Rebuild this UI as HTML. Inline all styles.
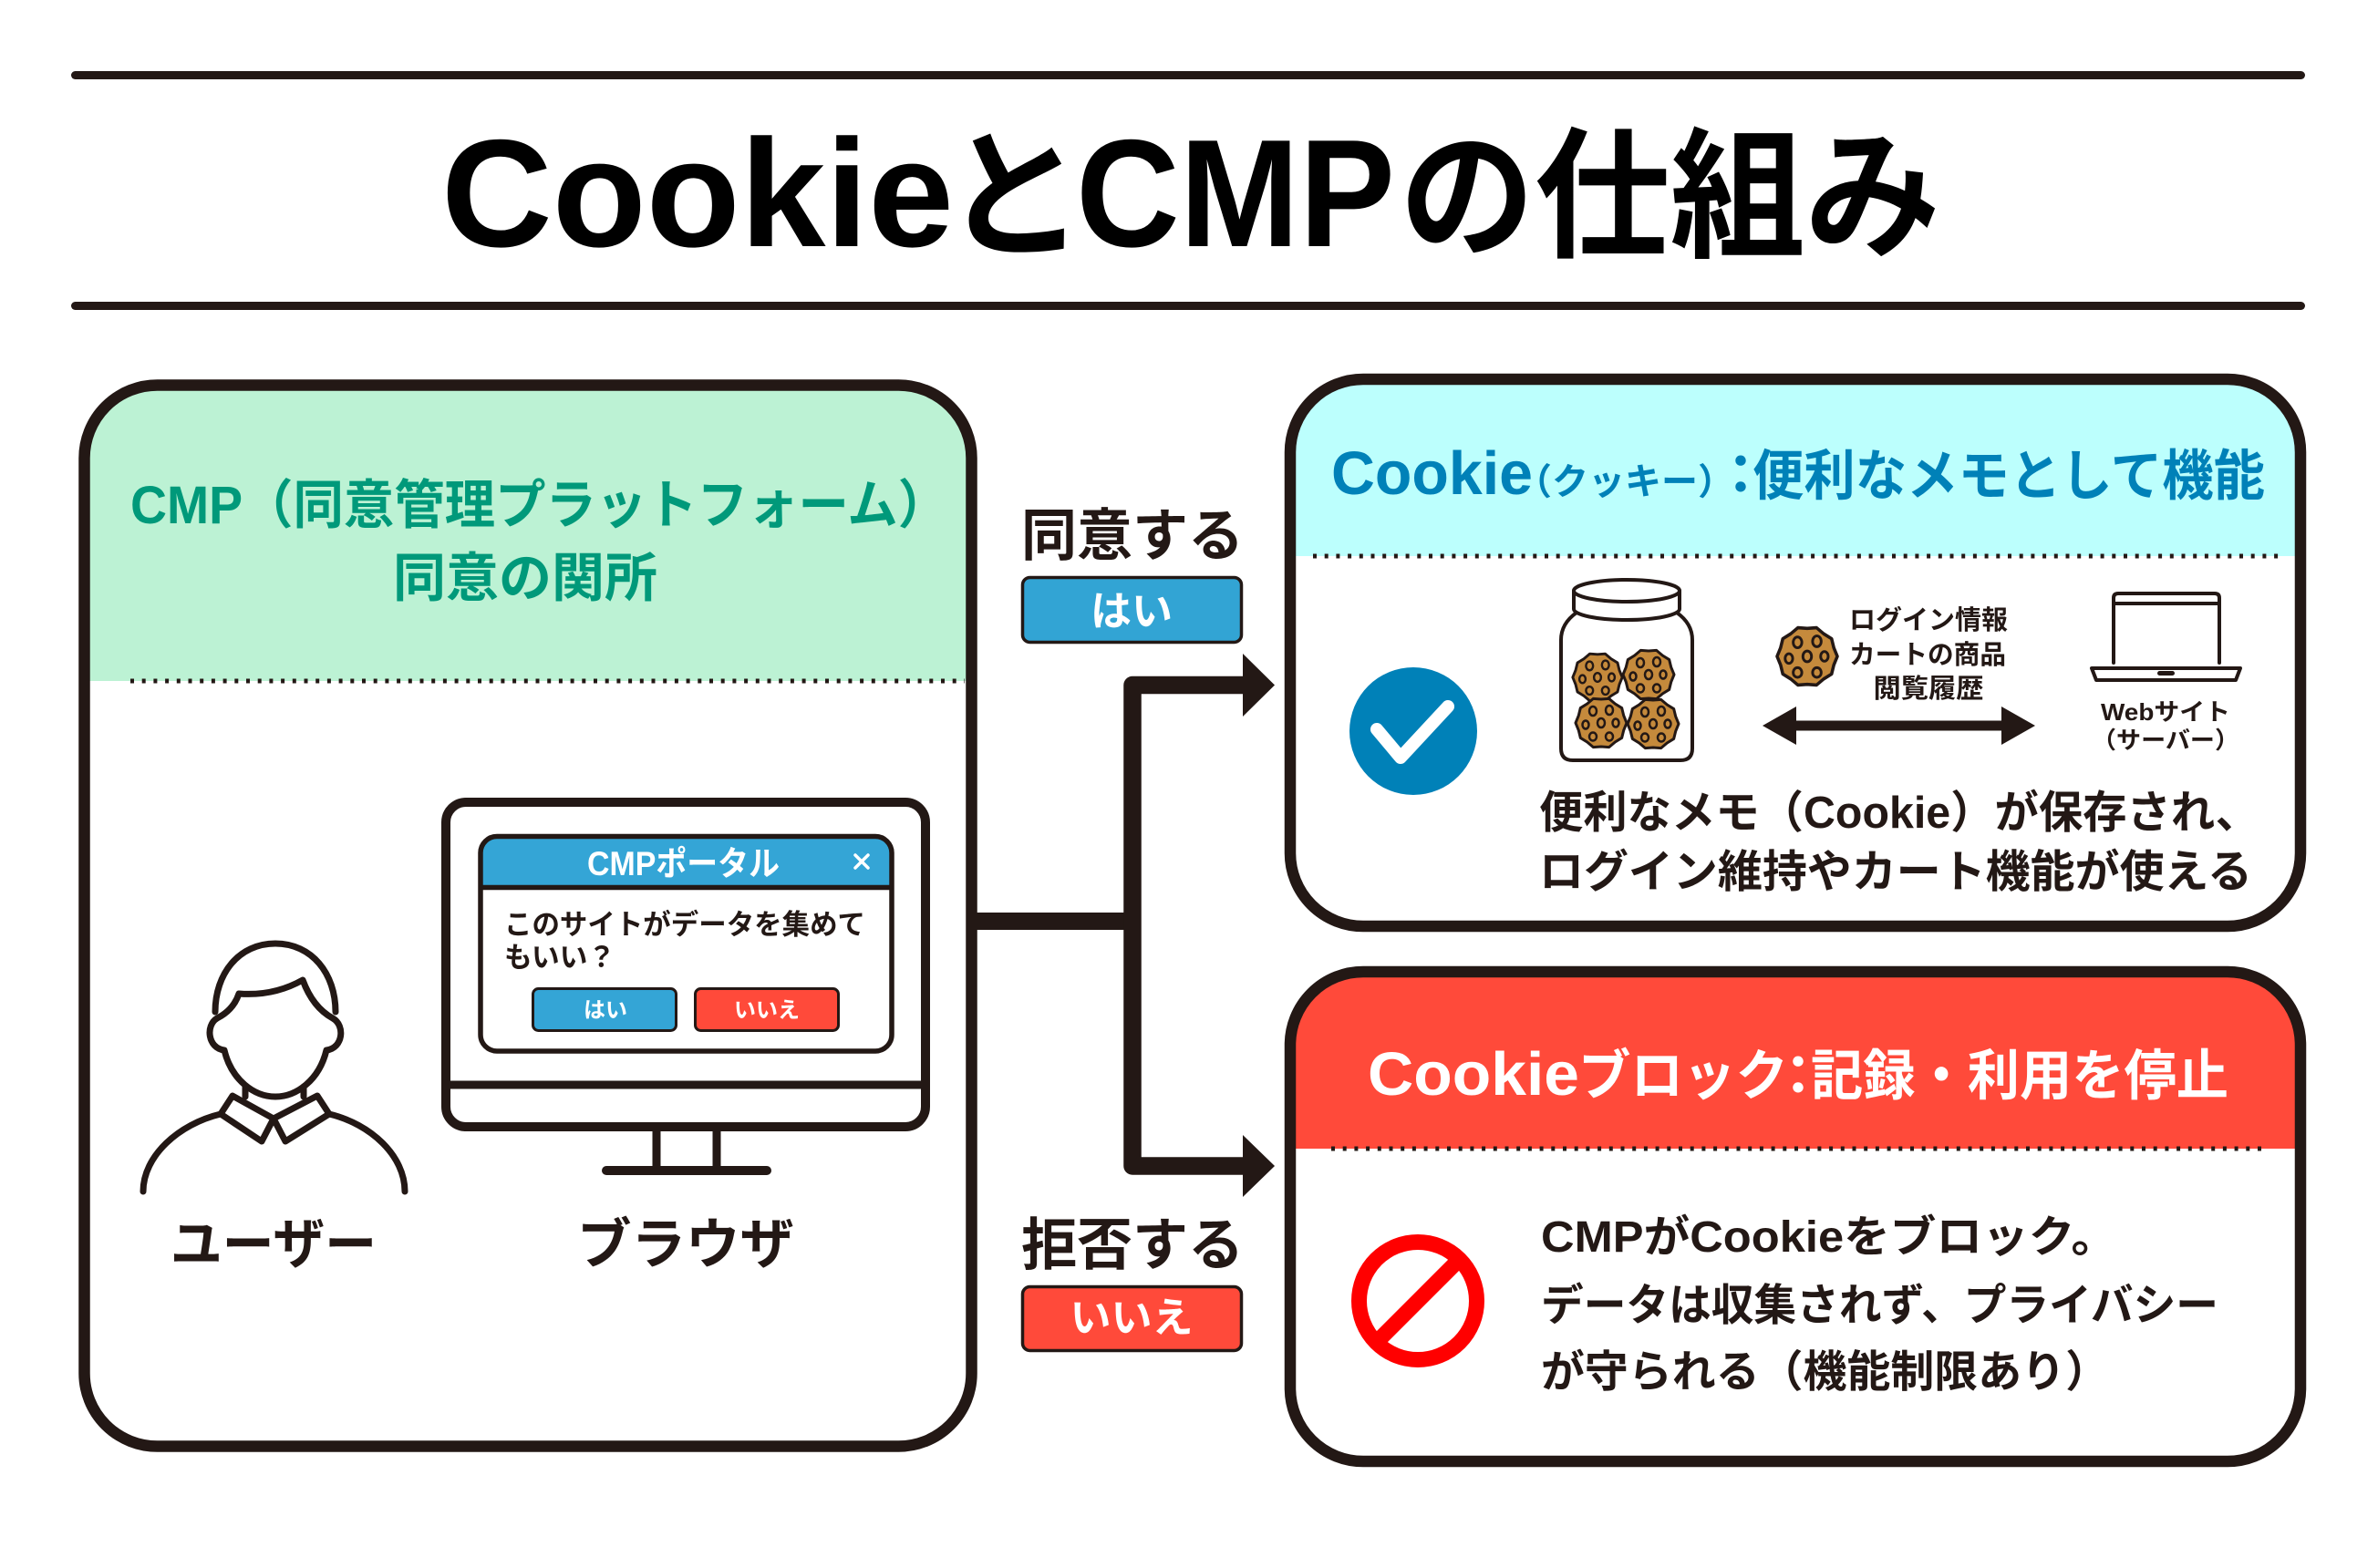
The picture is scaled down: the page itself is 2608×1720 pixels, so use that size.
<!DOCTYPE html>
<html><head><meta charset="utf-8"><style>
html,body{margin:0;padding:0;background:#fff;}
svg{display:block;}
</style></head><body>
<svg width="2608" height="1720" viewBox="0 0 2608 1720" xmlns="http://www.w3.org/2000/svg">
<defs>
<clipPath id="cl"><rect x="92.5" y="422.5" width="973" height="1164" rx="80"/></clipPath>
<clipPath id="ct"><rect x="1415" y="416" width="1108" height="600" rx="80"/></clipPath>
<clipPath id="cb"><rect x="1415" y="1066" width="1108" height="537" rx="80"/></clipPath>
<g id="ck">
<polygon points="28,0 24.73,8.03 22.65,16.46 15.29,21.03 8.65,26.63 0,26 -8.65,26.63 -15.29,21.03 -22.65,16.46 -24.73,8.03 -28,0 -24.73,-8.03 -22.65,-16.46 -15.29,-21.03 -8.65,-26.63 0,-26 8.65,-26.63 15.29,-21.03 22.65,-16.46 24.73,-8.03" fill="#c58a3c" stroke="#231815" stroke-width="3" stroke-linejoin="round"/>
<g fill="none" stroke="#231815" stroke-width="2.5">
<ellipse cx="-9" cy="-13" rx="4" ry="5"/>
<ellipse cx="9" cy="-14" rx="4" ry="5"/>
<ellipse cx="-17" cy="2" rx="3.5" ry="4.5"/>
<ellipse cx="0" cy="0" rx="4" ry="5"/>
<ellipse cx="16" cy="0" rx="3.5" ry="4.5"/>
<ellipse cx="-9" cy="15" rx="4" ry="4.5"/>
<ellipse cx="9" cy="15" rx="4" ry="4.5"/>
</g>
</g>
</defs>

<g font-family="'Liberation Sans','Noto Sans CJK JP',sans-serif" font-weight="bold">

<!-- title rules -->
<rect x="78" y="78" width="2450" height="9" rx="4.5" fill="#231815"/>
<rect x="78" y="331" width="2450" height="9" rx="4.5" fill="#231815"/>

<!-- title -->
<g fill="#000">
<text x="484" y="270" font-size="168" textLength="562" lengthAdjust="spacingAndGlyphs">Cookie</text>
<text x="1035" y="270" font-size="155">と</text>
<text x="1180" y="270" font-size="168" textLength="350" lengthAdjust="spacingAndGlyphs">CMP</text>
<text x="1535" y="270" font-size="155" textLength="593" lengthAdjust="spacingAndGlyphs">の仕組み</text>
</g>

<!-- LEFT PANEL -->
<rect x="92.5" y="422.5" width="973" height="1164" rx="80" fill="#fff"/>
<rect x="80" y="410" width="1000" height="337" fill="#bcf2d4" clip-path="url(#cl)"/>
<line x1="143" y1="747" x2="1058" y2="747" stroke="#231815" stroke-width="5" stroke-dasharray="4 8.7"/>
<rect x="92.5" y="422.5" width="973" height="1164" rx="80" fill="none" stroke="#231815" stroke-width="12.5"/>

<text x="143" y="574" font-size="58" fill="#00997a" textLength="897" lengthAdjust="spacingAndGlyphs">CMP（同意管理プラットフォーム）</text>
<text x="576" y="654" font-size="58" fill="#00997a" text-anchor="middle">同意の関所</text>

<!-- monitor -->
<rect x="489" y="880" width="526" height="356" rx="22" fill="#fff" stroke="#231815" stroke-width="10"/>
<line x1="489" y1="1190" x2="1015" y2="1190" stroke="#231815" stroke-width="9"/>
<line x1="720" y1="1241" x2="720" y2="1284" stroke="#231815" stroke-width="9"/>
<line x1="786" y1="1241" x2="786" y2="1284" stroke="#231815" stroke-width="9"/>
<line x1="665" y1="1284" x2="841" y2="1284" stroke="#231815" stroke-width="10" stroke-linecap="round"/>

<!-- dialog -->
<rect x="527" y="917.5" width="451" height="235.5" rx="18" fill="#fff"/>
<path d="M527,973 V935.5 Q527,917.5 545,917.5 H960 Q978,917.5 978,935.5 V973 Z" fill="#34a5d6"/>
<line x1="527" y1="973.5" x2="978" y2="973.5" stroke="#231815" stroke-width="5.5"/>
<rect x="527" y="917.5" width="451" height="235.5" rx="18" fill="none" stroke="#231815" stroke-width="5.5"/>
<text x="644" y="960" font-size="37" fill="#fff" textLength="211" lengthAdjust="spacingAndGlyphs">CMPポータル</text>
<path d="M938,938 L952,952 M952,938 L938,952" stroke="#fff" stroke-width="3.5" stroke-linecap="round"/>
<text x="553" y="1025" font-size="31" fill="#231815" textLength="396" lengthAdjust="spacingAndGlyphs">このサイトがデータを集めて</text>
<text x="553" y="1061" font-size="31" fill="#231815" textLength="122" lengthAdjust="spacingAndGlyphs">もいい？</text>
<rect x="584.5" y="1084.5" width="157" height="46" rx="6" fill="#34a5d6" stroke="#231815" stroke-width="3"/>
<rect x="762.5" y="1084.5" width="157" height="46" rx="6" fill="#ff4a3a" stroke="#231815" stroke-width="3"/>
<text x="664" y="1116" font-size="24" fill="#fff" text-anchor="middle">はい</text>
<text x="841" y="1116" font-size="24" fill="#fff" text-anchor="middle">いいえ</text>

<!-- person -->
<g fill="none" stroke="#231815" stroke-width="7" stroke-linecap="round" stroke-linejoin="round">
<path d="M236,1110 C236,1068 262,1035 302,1035 C342,1035 368,1068 368,1110"/>
<path d="M262,1090 Q300,1093 332,1075 Q343,1105 365,1117 C379,1125 376,1150 358,1152 C350,1185 325,1203 302,1203 C279,1203 254,1185 246,1152 C228,1150 225,1125 238,1117 Q256,1108 262,1090 Z"/>
<line x1="269" y1="1192" x2="269" y2="1203"/>
<line x1="333" y1="1192" x2="333" y2="1203"/>
<polygon points="255,1202 242,1222 287,1252 300,1227"/>
<polygon points="348,1202 361,1222 313,1252 300,1227"/>
<path d="M242,1222 C196,1233 157,1268 157,1307"/>
<path d="M361,1222 C407,1233 444,1268 444,1307"/>
</g>
<text x="300" y="1386" font-size="60" fill="#231815" text-anchor="middle" textLength="226" lengthAdjust="spacingAndGlyphs">ユーザー</text>
<text x="752" y="1386" font-size="60" fill="#231815" text-anchor="middle" textLength="238" lengthAdjust="spacingAndGlyphs">ブラウザ</text>

<!-- connectors -->
<g stroke="#231815" fill="none">
<path d="M1066,1010.5 H1242" stroke-width="19"/>
<path d="M1366,751.5 H1242 V1279 H1366" stroke-width="19.5" stroke-linejoin="round"/>
</g>
<polygon points="1363,717 1398,751.5 1363,786" fill="#231815"/>
<polygon points="1363,1245 1398,1279 1363,1313" fill="#231815"/>

<text x="1242" y="609" font-size="62" fill="#231815" text-anchor="middle" textLength="244" lengthAdjust="spacingAndGlyphs">同意する</text>
<rect x="1121.5" y="633.5" width="240" height="71" rx="8" fill="#32a4d4" stroke="#231815" stroke-width="3.5"/>
<text x="1241" y="686" font-size="45" fill="#fff" text-anchor="middle">はい</text>

<text x="1242" y="1387" font-size="62" fill="#231815" text-anchor="middle" textLength="244" lengthAdjust="spacingAndGlyphs">拒否する</text>
<rect x="1121.5" y="1411.5" width="240" height="70" rx="8" fill="#ff4a3a" stroke="#231815" stroke-width="3.5"/>
<text x="1241" y="1461" font-size="45" fill="#fff" text-anchor="middle">いいえ</text>

<!-- TOP RIGHT PANEL -->
<rect x="1415" y="416" width="1108" height="600" rx="80" fill="#fff"/>
<rect x="1400" y="400" width="1140" height="210" fill="#bcfffd" clip-path="url(#ct)"/>
<line x1="1440" y1="610" x2="2504" y2="610" stroke="#231815" stroke-width="5" stroke-dasharray="4 8.7"/>
<rect x="1415" y="416" width="1108" height="600" rx="80" fill="none" stroke="#231815" stroke-width="12.5"/>

<g fill="#0081b8">
<text x="1460" y="542" font-size="67" textLength="221" lengthAdjust="spacingAndGlyphs">Cookie</text>
<text x="1662" y="542" font-size="40" textLength="240" lengthAdjust="spacingAndGlyphs">（クッキー）</text>
<text x="1909" y="542" font-size="60" text-anchor="middle">：</text>
<text x="1922" y="543" font-size="60" textLength="562" lengthAdjust="spacingAndGlyphs">便利なメモとして機能</text>
</g>

<circle cx="1550" cy="802" r="70" fill="#0081b8"/>
<path d="M1510,800 L1536,831 L1588,775" fill="none" stroke="#fff" stroke-width="14" stroke-linecap="round" stroke-linejoin="round"/>

<!-- jar -->
<g stroke="#231815" stroke-width="4" fill="#fff" stroke-linejoin="round">
<path d="M1729,672 Q1712,684 1712,702 V821 Q1712,834 1725,834 H1843 Q1856,834 1856,821 V702 Q1856,684 1839,672 Z"/>
<path d="M1726,648 V668 A58,12 0 0 0 1842,668 V648 Z"/>
<ellipse cx="1784" cy="648" rx="58" ry="12"/>
</g>
<use href="#ck" transform="translate(1752,743) scale(0.97)"/>
<use href="#ck" transform="translate(1808,740)"/>
<use href="#ck" transform="translate(1756,793)"/>
<use href="#ck" transform="translate(1813,794)"/>
<use href="#ck" transform="translate(1982,720) scale(1.18)"/>

<g fill="#231815" font-size="29" text-anchor="middle">
<text x="2115" y="690" textLength="174" lengthAdjust="spacingAndGlyphs">ログイン情報</text>
<text x="2114" y="728" textLength="172" lengthAdjust="spacingAndGlyphs">カートの商品</text>
<text x="2115" y="765" textLength="121" lengthAdjust="spacingAndGlyphs">閲覧履歴</text>
</g>

<line x1="1965" y1="796" x2="2200" y2="796" stroke="#231815" stroke-width="11"/>
<polygon points="1933,796 1970,775 1970,817" fill="#231815"/>
<polygon points="2232,796 2195,775 2195,817" fill="#231815"/>

<!-- laptop -->
<g stroke="#231815" stroke-width="4" fill="none" stroke-linecap="round" stroke-linejoin="round">
<path d="M2318,727 V656 Q2318,651 2323,651 H2429 Q2434,651 2434,656 V727"/>
<line x1="2318" y1="662" x2="2434" y2="662"/>
<polygon points="2294,733 2457,733 2452,746 2299,746" fill="#fff"/>
</g>
<rect x="2366" y="736" width="19" height="5" rx="2.5" fill="#231815"/>
<text x="2375" y="790" font-size="26" fill="#231815" text-anchor="middle" textLength="142" lengthAdjust="spacingAndGlyphs">Webサイト</text>
<text x="2375" y="821" font-size="26" fill="#231815" text-anchor="middle" textLength="162" lengthAdjust="spacingAndGlyphs">（サーバー）</text>

<g fill="#231815" font-size="49">
<text x="1688" y="908" textLength="790" lengthAdjust="spacingAndGlyphs">便利なメモ（Cookie）が保存され、</text>
<text x="1688" y="973" textLength="782" lengthAdjust="spacingAndGlyphs">ログイン維持やカート機能が使える</text>
</g>

<!-- BOTTOM RIGHT PANEL -->
<rect x="1415" y="1066" width="1108" height="537" rx="80" fill="#fff"/>
<rect x="1400" y="1050" width="1140" height="210" fill="#ff4a3a" clip-path="url(#cb)"/>
<line x1="1460" y1="1260" x2="2484" y2="1260" stroke="#231815" stroke-width="5" stroke-dasharray="4 8.7"/>
<rect x="1415" y="1066" width="1108" height="537" rx="80" fill="none" stroke="#231815" stroke-width="12.5"/>

<g fill="#fff">
<text x="1500" y="1201" font-size="67" textLength="232" lengthAdjust="spacingAndGlyphs">Cookie</text>
<text x="1731" y="1201" font-size="60" textLength="230" lengthAdjust="spacingAndGlyphs">ブロック</text>
<text x="1972" y="1201" font-size="60" text-anchor="middle">：</text>
<text x="1986" y="1201" font-size="60" textLength="458" lengthAdjust="spacingAndGlyphs">記録・利用を停止</text>
</g>

<circle cx="1555" cy="1427" r="64.5" fill="#fff" stroke="#ff0000" stroke-width="17"/>
<line x1="1601" y1="1381" x2="1509" y2="1473" stroke="#ff0000" stroke-width="17"/>

<g fill="#231815" font-size="48">
<text x="1690" y="1373" textLength="632" lengthAdjust="spacingAndGlyphs">CMPがCookieをブロック。</text>
<text x="1690" y="1448" textLength="743" lengthAdjust="spacingAndGlyphs">データは収集されず、プライバシー</text>
<text x="1690" y="1521" textLength="623" lengthAdjust="spacingAndGlyphs">が守られる（機能制限あり）</text>
</g>

</g>
</svg>
</body></html>
